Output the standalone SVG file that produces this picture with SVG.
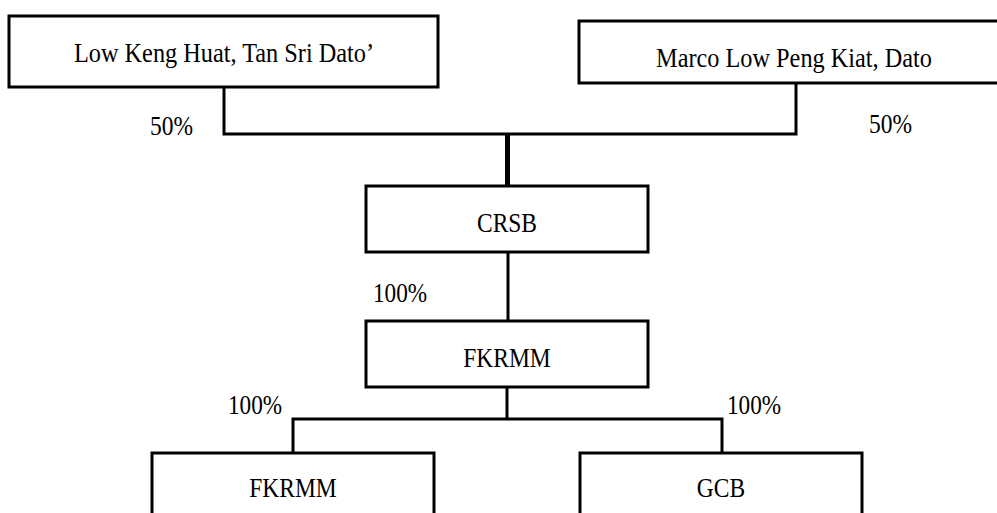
<svg xmlns="http://www.w3.org/2000/svg" width="997" height="513" viewBox="0 0 997 513">
<style>
.box{fill:#fff;stroke:#000;stroke-width:3}
.lbl{font-family:"Liberation Serif","Times New Roman",serif;font-size:27px;fill:#000}
.mid{text-anchor:middle}
.conn{fill:none;stroke:#000;stroke-width:3}
</style>
<rect width="997" height="513" fill="#fff"/>
<g id="connectors">
<polyline class="conn" points="224,87 224,134 796,134 796,84"/>
<line class="conn" x1="507.5" y1="134" x2="507.5" y2="186" style="stroke-width:5"/>
<line class="conn" x1="508" y1="252" x2="508" y2="321"/>
<line class="conn" x1="507" y1="387" x2="507" y2="419"/>
<polyline class="conn" points="293,453 293,419 722,419 722,453"/>
</g>
<g id="node-lowkenghuat">
<rect class="box" x="9" y="16" width="429" height="71"/>
<text class="lbl mid" transform="translate(224,62) scale(0.9,1)">Low Keng Huat, Tan Sri Dato’</text>
</g>
<g id="node-marcolow">
<rect class="box" x="579" y="21" width="440" height="62"/>
<text class="lbl mid" transform="translate(794,67) scale(0.9,1)">Marco Low Peng Kiat, Dato</text>
</g>
<g id="node-crsb">
<rect class="box" x="366" y="186" width="282" height="66"/>
<text class="lbl mid" transform="translate(507,232) scale(0.87,1)">CRSB</text>
</g>
<g id="node-fkrmm-mid">
<rect class="box" x="366" y="321" width="282" height="66"/>
<text class="lbl mid" transform="translate(507,367) scale(0.87,1)">FKRMM</text>
</g>
<g id="node-fkrmm-bottom">
<rect class="box" x="152" y="453" width="282" height="80"/>
<text class="lbl mid" transform="translate(293,497) scale(0.87,1)">FKRMM</text>
</g>
<g id="node-gcb">
<rect class="box" x="580" y="453" width="282" height="80"/>
<text class="lbl mid" transform="translate(721,497) scale(0.87,1)">GCB</text>
</g>
<g id="labels">
<text class="lbl" transform="translate(150,135) scale(0.87,1)">50%</text>
<text class="lbl" transform="translate(869,133) scale(0.87,1)">50%</text>
<text class="lbl" transform="translate(373,302) scale(0.86,1)">100%</text>
<text class="lbl" transform="translate(228,414) scale(0.86,1)">100%</text>
<text class="lbl" transform="translate(727,414) scale(0.86,1)">100%</text>
</g>
</svg>
